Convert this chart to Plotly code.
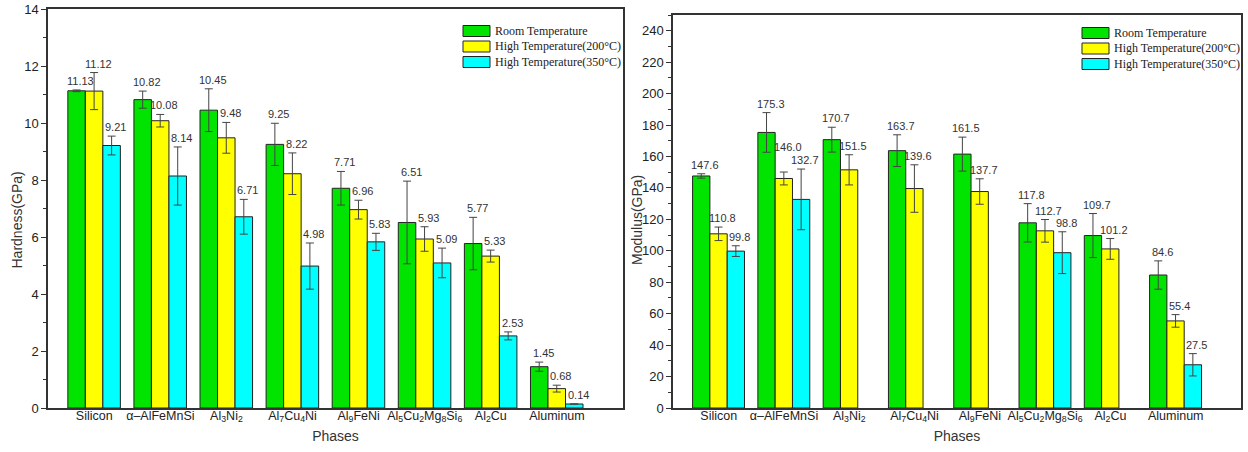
import plotly.graph_objects as go

phases = ["Silicon", "α–AlFeMnSi", "Al<sub>3</sub>Ni<sub>2</sub>", "Al<sub>7</sub>Cu<sub>4</sub>Ni",
          "Al<sub>9</sub>FeNi", "Al<sub>5</sub>Cu<sub>2</sub>Mg<sub>8</sub>Si<sub>6</sub>",
          "Al<sub>2</sub>Cu", "Aluminum"]
series_names = ["Room Temperature", "High Temperature(200°C)", "High Temperature(350°C)"]
colors = ["#00E400", "#FFFF00", "#00FFFF"]

hard_rt = [11.13, 10.82, 10.45, 9.25, 7.71, 6.51, 5.77, 1.45]
hard_200 = [11.12, 10.08, 9.48, 8.22, 6.96, 5.93, 5.33, 0.68]
hard_350 = [9.21, 8.14, 6.71, 4.98, 5.83, 5.09, 2.53, 0.14]
hard_rt_err = [0.03, 0.30, 0.75, 0.74, 0.59, 1.45, 0.92, 0.16]
hard_200_err = [0.65, 0.22, 0.54, 0.73, 0.33, 0.43, 0.21, 0.12]
hard_350_err = [0.33, 1.02, 0.61, 0.81, 0.30, 0.52, 0.14, 0.0]

mod_rt = [147.6, 175.3, 170.7, 163.7, 161.5, 117.8, 109.7, 84.6]
mod_200 = [110.8, 146.0, 151.5, 139.6, 137.7, 112.7, 101.2, 55.4]
mod_350 = [99.8, 132.7, None, None, None, 98.8, None, 27.5]
mod_rt_err = [1.4, 12.6, 7.9, 10.1, 10.8, 12.2, 14.0, 9.0]
mod_200_err = [4.3, 4.1, 9.6, 15.1, 8.1, 7.2, 6.6, 4.0]
mod_350_err = [3.4, 19.3, None, None, None, 13.3, None, 7.1]

hard_ticks = [0, 2, 4, 6, 8, 10, 12, 14]
mod_ticks = [0, 20, 40, 60, 80, 100, 120, 140, 160, 180, 200, 220, 240]

FONT = "Arial, Liberation Sans, sans-serif"
SERIF = "Times New Roman, Liberation Serif, serif"
BW = 0.265
START = -0.4
W, H = 1248, 452

# extra vertical nudge (px) for value labels placed by hand in the original
label_nudge = {("x2", 1, 1): 16}

fig = go.Figure()
annotations = []
shapes = []


def add_panel(values, errors, xaxis, yaxis, fmt):
    idx = list(range(len(phases)))
    for k, (vals, errs) in enumerate(zip(values, errors)):
        off = START + k * BW
        fig.add_trace(go.Bar(
            x=idx, y=vals, name=series_names[k], width=BW, offset=off,
            marker=dict(color=colors[k], line=dict(color="#222", width=1)),
            error_y=dict(type="data", array=[e if e is not None else 0 for e in errs],
                         color="#444", thickness=1, width=4),
            xaxis=xaxis, yaxis=yaxis, showlegend=False,
        ))
        for i, (v, e) in enumerate(zip(vals, errs)):
            if v is None:
                continue
            annotations.append(dict(
                x=i + off + BW / 2, y=v + (e or 0), xref=xaxis, yref=yaxis,
                text=fmt.format(v), showarrow=False, xanchor="center", yanchor="bottom",
                xshift=4, yshift=1 + label_nudge.get((xaxis, i, k), 0),
                font=dict(family=FONT, size=11, color="#333"),
            ))


add_panel([hard_rt, hard_200, hard_350], [hard_rt_err, hard_200_err, hard_350_err],
          "x", "y", "{:.2f}")
add_panel([mod_rt, mod_200, mod_350], [mod_rt_err, mod_200_err, mod_350_err],
          "x2", "y2", "{:.1f}")


def add_legend(px_left, py_top):
    for k, name in enumerate(series_names):
        cy = py_top + k * 15.5
        shapes.append(dict(type="rect", xref="paper", yref="paper",
                           x0=px_left / W, x1=(px_left + 27) / W,
                           y0=1 - (cy + 5.5) / H, y1=1 - (cy - 5.5) / H,
                           fillcolor=colors[k], line=dict(color="#222", width=1)))
        annotations.append(dict(x=(px_left + 30) / W, y=1 - cy / H, xref="paper", yref="paper",
                                text=name, showarrow=False, xanchor="left", yanchor="middle",
                                font=dict(family=SERIF, size=12, color="#222")))


add_legend(463, 31)
add_legend(1082, 33)

# y-axis titles
for txt, px in (("Hardness(GPa)", 16.5), ("Modulus(GPa)", 637)):
    annotations.append(dict(x=px / W, y=1 - 220 / H, xref="paper", yref="paper",
                            text=txt, textangle=-90, showarrow=False,
                            xanchor="center", yanchor="middle",
                            font=dict(family=FONT, size=14, color="#333")))

xcommon = dict(range=[-0.7, 8.0], tickvals=list(range(len(phases))), ticktext=phases,
               showline=True, linecolor="#333", linewidth=1.5, mirror=True,
               ticks="", showgrid=False, zeroline=False, automargin=False,
               ticklabelstandoff=-5,
               tickfont=dict(family=FONT, size=12.5, color="#222"),
               title=dict(text="Phases", font=dict(family=FONT, size=14, color="#333"), standoff=8))
ycommon = dict(showline=True, linecolor="#333", linewidth=1.5, mirror=True,
               ticks="outside", ticklen=5, tickwidth=1, tickcolor="#333",
               showgrid=False, zeroline=False, automargin=False,
               tickfont=dict(family=FONT, size=13, color="#222"))

fig.update_layout(
    width=W, height=H, margin=dict(l=0, r=0, t=0, b=0, autoexpand=False),
    paper_bgcolor="white", plot_bgcolor="white", barmode="overlay",
    showlegend=False,
    xaxis=dict(domain=[48 / W, 623 / W], anchor="y", **xcommon),
    xaxis2=dict(domain=[673 / W, 1241 / W], anchor="y2", **xcommon),
    yaxis=dict(domain=[(H - 408) / H, (H - 9) / H], anchor="x", range=[0, 14],
               tickvals=hard_ticks, minor=dict(ticks="outside", dtick=1, ticklen=3, tickcolor="#333"),
               **ycommon),
    yaxis2=dict(domain=[(H - 408) / H, (H - 15) / H], anchor="x2", range=[0, 250],
                tickvals=mod_ticks, minor=dict(ticks="outside", dtick=10, ticklen=3, tickcolor="#333"),
                **ycommon),
    annotations=annotations,
    shapes=shapes,
)

fig.write_html("out.html", config={"displayModeBar": False},
               post_script="document.body.style.margin='0';document.body.style.overflow='hidden';")
